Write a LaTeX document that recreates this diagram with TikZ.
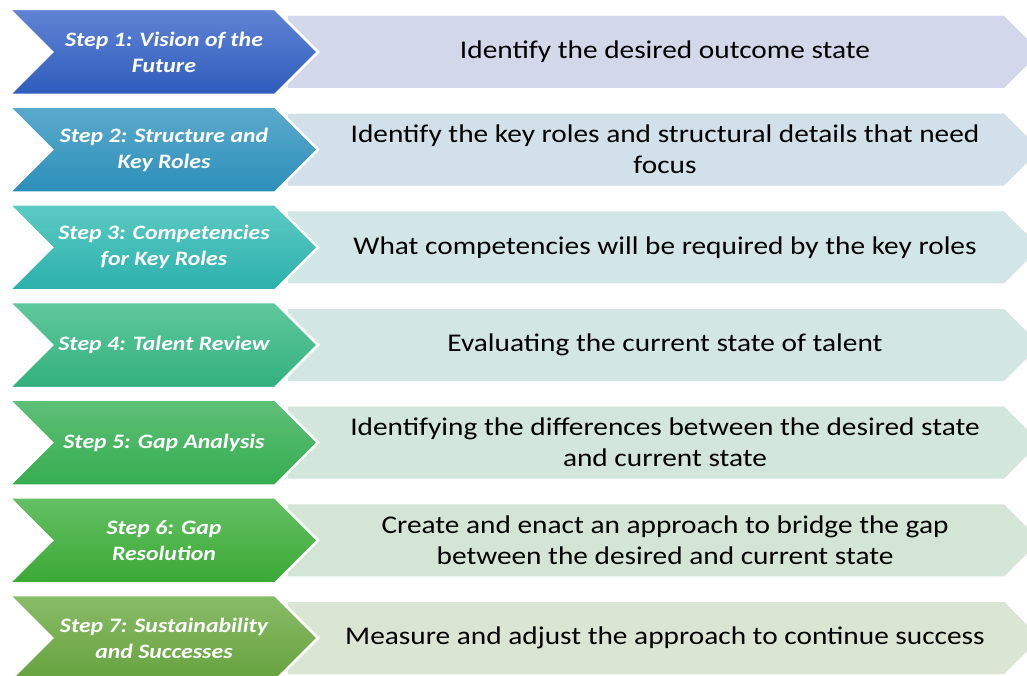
\documentclass[tikz,border=0pt]{standalone}
\usepackage{fontspec}
\setmainfont{Carlito}
\definecolor{t1}{HTML}{6084D4}\definecolor{b1}{HTML}{2E5CBC}\definecolor{p1}{HTML}{D3D7EA}
\definecolor{t2}{HTML}{5CAACC}\definecolor{b2}{HTML}{2B8FB9}\definecolor{p2}{HTML}{D2E0E9}
\definecolor{t3}{HTML}{5DCAC4}\definecolor{b3}{HTML}{2BB0AC}\definecolor{p3}{HTML}{D2E6E8}
\definecolor{t4}{HTML}{60C89C}\definecolor{b4}{HTML}{32B07E}\definecolor{p4}{HTML}{D2E7E1}
\definecolor{t5}{HTML}{5FC079}\definecolor{b5}{HTML}{35AD4F}\definecolor{p5}{HTML}{D3E6DB}
\definecolor{t6}{HTML}{64C064}\definecolor{b6}{HTML}{3AA935}\definecolor{p6}{HTML}{D4E5D5}
\definecolor{t7}{HTML}{89BC67}\definecolor{b7}{HTML}{66A23E}\definecolor{p7}{HTML}{DAE5D3}
\tikzset{
  lbl/.style={text=white,align=center,inner sep=0pt,xscale=1.16,font=\bfseries\itshape\fontsize{20.5}{26}\selectfont},
  rtxt/.style={text=black,align=center,inner sep=0pt,xscale=1.15,font=\fontsize{25.5}{31}\selectfont},
  chev/.style={draw=white,line width=2.5pt,line join=miter},
}
\newcommand{\mkrow}[7]{%
  \path[fill=#5] (288,#2+7) -- (1004,#2+7) -- (1040,#2+43) -- (1004,#2+79) -- (288,#2+79) -- cycle;
  \path[chev,top color=#3,bottom color=#4] (9,#2) -- (275,#2) -- (318,#2+43) -- (275,#2+86) -- (9,#2+86) -- (52,#2+43) -- cycle;
  \node[lbl] (#1l) at (164,#2+43) {#6};
  \node[rtxt] (#1r) at (665,#2+43) {#7};
}
\begin{document}
\begin{tikzpicture}[x=1pt,y=-1pt]
\path[fill=white,use as bounding box] (0,0) rectangle (1027,676);
\begin{scope}
\clip (0,0) rectangle (1027,676);
\mkrow{s1}{9}{t1}{b1}{p1}{Step 1: Vision of the\\Future}{Identify the desired outcome state}
\mkrow{s2}{106.7}{t2}{b2}{p2}{Step 2: Structure and\\Key Roles}{Identify the key roles and structural details that need\\focus}
\mkrow{s3}{204.3}{t3}{b3}{p3}{Step 3: Competencies\\for Key Roles}{What competencies will be required by the key roles}
\mkrow{s4}{302}{t4}{b4}{p4}{Step 4: Talent Review}{Evaluating the current state of talent}
\mkrow{s5}{399.7}{t5}{b5}{p5}{Step 5: Gap Analysis}{Identifying the differences between the desired state\\and current state}
\mkrow{s6}{497.3}{t6}{b6}{p6}{Step 6: Gap\\Resolution}{Create and enact an approach to bridge the gap\\between the desired and current state}
\mkrow{s7}{595}{t7}{b7}{p7}{Step 7: Sustainability\\and Successes}{Measure and adjust the approach to continue success}
\end{scope}
\end{tikzpicture}
\end{document}
